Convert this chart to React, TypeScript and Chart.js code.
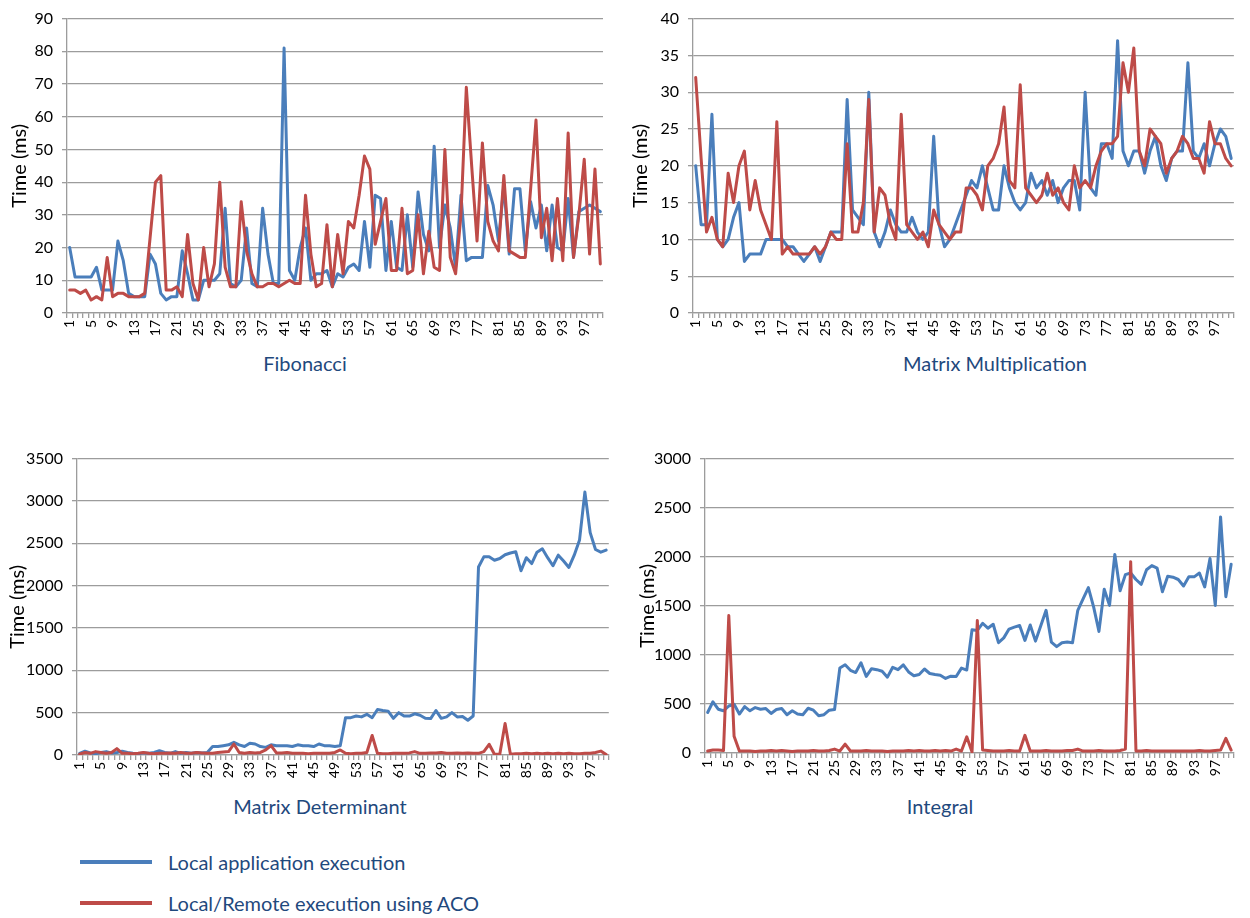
import React, { useEffect, useRef } from 'react';
import { Chart, registerables } from 'chart.js';

Chart.register(...registerables);

const categories: string[] = Array.from({ length: 100 }, (_, i) => String(i + 1));
const shownTickLabels: string[] = ['1', '5', '9', '13', '17', '21', '25', '29', '33', '37', '41', '45', '49', '53', '57', '61', '65', '69', '73', '77', '81', '85', '89', '93', '97'];

const seriesNames = ['Local application execution', 'Local/Remote execution using ACO'];

const fibLocal = [
  20, 11, 11, 11, 11, 14, 7, 7, 7, 22,
  16, 6, 5, 5, 5, 18, 15, 6, 4, 5,
  5, 19, 12, 4, 4, 10, 10, 10, 12, 32,
  9, 8, 10, 26, 9, 8, 32, 18, 9, 9,
  81, 13, 10, 20, 26, 10, 12, 12, 13, 8,
  12, 11, 14, 15, 13, 28, 14, 36, 35, 13,
  28, 14, 13, 30, 14, 37, 24, 19, 51, 20,
  33, 26, 14, 36, 16, 17, 17, 17, 39, 33,
  22, 39, 18, 38, 38, 19, 34, 26, 33, 19,
  33, 20, 19, 35, 17, 31, 32, 33, 32, 31,
];
const fibACO = [
  7, 7, 6, 7, 4, 5, 4, 17, 5, 6,
  6, 5, 5, 5, 6, 23, 40, 42, 7, 7,
  8, 5, 24, 9, 4, 20, 8, 15, 40, 14,
  8, 8, 34, 19, 12, 8, 8, 9, 9, 8,
  9, 10, 9, 9, 36, 18, 8, 9, 27, 8,
  24, 12, 28, 26, 36, 48, 44, 21, 28, 35,
  13, 13, 32, 12, 13, 30, 12, 25, 14, 13,
  50, 17, 12, 30, 69, 45, 22, 52, 28, 22,
  19, 42, 19, 18, 17, 17, 38, 59, 23, 32,
  16, 35, 16, 55, 17, 30, 47, 18, 44, 15,
];

const mmLocal = [
  20, 12, 12, 27, 10, 9, 10, 13, 15, 7,
  8, 8, 8, 10, 10, 10, 10, 9, 9, 8,
  7, 8, 9, 7, 9, 11, 11, 11, 29, 14,
  13, 12, 30, 11, 9, 11, 14, 12, 11, 11,
  13, 11, 10, 11, 24, 12, 9, 10, 12, 14,
  16, 18, 17, 20, 17, 14, 14, 20, 17, 15,
  14, 15, 19, 17, 18, 16, 18, 15, 17, 18,
  18, 14, 30, 17, 16, 23, 23, 21, 37, 22,
  20, 22, 22, 19, 22, 24, 20, 18, 21, 22,
  22, 34, 22, 21, 23, 20, 23, 25, 24, 21,
];
const mmACO = [
  32, 21, 11, 13, 10, 9, 19, 15, 20, 22,
  14, 18, 14, 12, 10, 26, 8, 9, 8, 8,
  8, 8, 9, 8, 9, 11, 10, 10, 23, 11,
  11, 15, 29, 11, 17, 16, 12, 10, 27, 12,
  11, 10, 11, 9, 14, 12, 11, 10, 11, 11,
  17, 17, 16, 14, 20, 21, 23, 28, 18, 17,
  31, 17, 16, 15, 16, 19, 16, 17, 15, 14,
  20, 17, 18, 17, 20, 22, 23, 23, 24, 34,
  30, 36, 22, 20, 25, 24, 23, 19, 21, 22,
  24, 23, 21, 21, 19, 26, 23, 23, 21, 20,
];

const mdLocal = [
  20, 45, 25, 15, 30, 40, 25, 30, 45, 30,
  20, 15, 25, 20, 30, 50, 30, 20, 40, 20,
  30, 20, 30, 25, 30, 100, 100, 110, 120, 150,
  120, 100, 140, 130, 100, 90, 120, 110, 110, 110,
  100, 120, 110, 110, 100, 130, 110, 110, 100, 110,
  441, 441, 460, 450, 480, 440, 537, 525, 518, 433,
  500, 460, 460, 487, 470, 433, 430, 525, 433, 450,
  500, 450, 455, 410, 460, 2220, 2340, 2340, 2300, 2320,
  2365, 2385, 2400, 2175, 2330, 2260, 2395, 2435, 2330, 2235,
  2360, 2290, 2215, 2360, 2540, 3105, 2626, 2427, 2395, 2420,
];
const mdACO = [
  10, 30, 20, 40, 30, 20, 30, 75, 20, 20,
  15, 20, 30, 20, 15, 20, 20, 25, 20, 30,
  20, 20, 30, 25, 20, 20, 30, 35, 40, 130,
  30, 20, 30, 25, 30, 60, 110, 25, 25, 30,
  20, 20, 20, 15, 20, 20, 20, 20, 30, 60,
  20, 15, 20, 20, 30, 230, 20, 15, 15, 20,
  20, 20, 25, 40, 20, 20, 25, 25, 30, 20,
  20, 25, 20, 25, 20, 20, 40, 126, 8, 8,
  372, 10, 15, 15, 20, 15, 20, 15, 20, 15,
  20, 15, 20, 15, 15, 20, 20, 30, 46, 5,
];

const intLocal = [
  413, 522, 446, 430, 479, 496, 397, 473, 430, 463,
  446, 453, 403, 443, 453, 390, 430, 397, 390, 456,
  436, 380, 390, 436, 443, 866, 899, 843, 820, 919,
  780, 859, 849, 833, 773, 873, 849, 899, 826, 787,
  800, 856, 810, 800, 793, 760, 783, 780, 865, 845,
  1256, 1249, 1322, 1272, 1312, 1124, 1173, 1263, 1282, 1299,
  1147, 1305, 1140, 1296, 1454, 1130, 1084, 1124, 1130, 1124,
  1454, 1570, 1686, 1487, 1239, 1669, 1504, 2023, 1653, 1818,
  1834, 1768, 1719, 1867, 1910, 1884, 1643, 1801, 1791, 1768,
  1702, 1795, 1795, 1834, 1692, 1983, 1504, 2406, 1593, 1923,
];
const intACO = [
  20, 30, 30, 25, 1400, 170, 20, 20, 20, 15,
  20, 20, 25, 20, 25, 20, 15, 20, 20, 20,
  25, 20, 20, 25, 40, 20, 90, 20, 20, 20,
  25, 20, 20, 20, 15, 20, 20, 20, 25, 20,
  25, 20, 20, 25, 20, 25, 20, 40, 20, 165,
  10, 1350, 30, 25, 20, 20, 20, 25, 20, 20,
  180, 20, 20, 20, 25, 20, 20, 20, 25, 25,
  40, 20, 20, 20, 25, 20, 20, 20, 25, 40,
  1950, 20, 20, 25, 20, 20, 20, 20, 20, 20,
  20, 20, 20, 25, 20, 20, 25, 30, 150, 30,
];

const BLUE = '#4A7EBB';
const RED = '#BE4B48';
const GRID = '#9c9c9c';
const TITLE_BLUE = '#1F497D';
const FONT = 'Lato, "Open Sans", sans-serif';

type PanelSpec = {
  title: string;
  local: number[];
  aco: number[];
  yMax: number;
  yStep: number;
  left: number;
  top: number;
  width: number;
  height: number;
  yAxisWidth: number;
  xAxisHeight: number;
  padTop: number;
  padRight: number;
  yTitlePad: number;
  titleX: number;
  titleY: number;
};

const panels: PanelSpec[] = [
  { title: 'Fibonacci', local: fibLocal, aco: fibACO, yMax: 90, yStep: 10, left: 0, top: 0, width: 625, height: 350, yAxisWidth: 67, xAxisHeight: 37, padTop: 10, padRight: 22, yTitlePad: 8, titleX: 305, titleY: 363 },
  { title: 'Matrix Multiplication', local: mmLocal, aco: mmACO, yMax: 40, yStep: 5, left: 625, top: 0, width: 625, height: 350, yAxisWidth: 68, xAxisHeight: 37, padTop: 10, padRight: 5, yTitlePad: 4, titleX: 995, titleY: 363 },
  { title: 'Matrix Determinant', local: mdLocal, aco: mdACO, yMax: 3500, yStep: 500, left: 0, top: 440, width: 625, height: 350, yAxisWidth: 77, xAxisHeight: 35, padTop: 11, padRight: 13, yTitlePad: 6, titleX: 320, titleY: 806 },
  { title: 'Integral', local: intLocal, aco: intACO, yMax: 3000, yStep: 500, left: 625, top: 440, width: 625, height: 350, yAxisWidth: 80, xAxisHeight: 37, padTop: 11, padRight: 10, yTitlePad: 11, titleX: 940, titleY: 806 },
];

function Panel({ spec }: { spec: PanelSpec }) {
  const ref = useRef<HTMLCanvasElement | null>(null);
  useEffect(() => {
    if (!ref.current) return;
    const shown = new Set(shownTickLabels);
    const chart = new Chart(ref.current, {
      type: 'line',
      data: {
        labels: categories,
        datasets: [
          { label: seriesNames[0], data: spec.local, borderColor: BLUE, backgroundColor: BLUE, borderWidth: 3, pointRadius: 0, tension: 0, order: 2, borderJoinStyle: 'round', borderCapStyle: 'round', fill: false },
          { label: seriesNames[1], data: spec.aco, borderColor: RED, backgroundColor: RED, borderWidth: 3, pointRadius: 0, tension: 0, order: 1, borderJoinStyle: 'round', borderCapStyle: 'round', fill: false },
        ],
      },
      options: {
        animation: false,
        responsive: false,
        maintainAspectRatio: false,
        layout: { padding: { left: 0, right: spec.padRight, top: spec.padTop, bottom: 0 }, autoPadding: false },
        plugins: { legend: { display: false }, tooltip: { enabled: false }, title: { display: false } },
        scales: {
          x: {
            type: 'category',
            offset: true,
            grid: { display: true, drawOnChartArea: false, drawTicks: true, tickLength: 5, color: GRID, lineWidth: 1.3, offset: true },
            border: { display: true, color: GRID, width: 1.3 },
            ticks: {
              autoSkip: false,
              maxRotation: 90,
              minRotation: 90,
              padding: 2,
              color: '#000',
              font: { family: FONT, size: 14 },
              callback: (_v: any, i: number) => (shown.has(categories[i]) ? categories[i] : ''),
            },
            afterFit: (s: any) => { s.height = spec.xAxisHeight; },
          },
          y: {
            min: 0,
            max: spec.yMax,
            ticks: { stepSize: spec.yStep, padding: 9, color: '#000', font: { family: FONT, size: 16 }, callback: (v: any) => String(v) },
            grid: { color: GRID, lineWidth: 1.3, tickLength: 5, drawTicks: true },
            border: { display: true, color: GRID, width: 1.3 },
            title: { display: true, text: 'Time (ms)', color: '#000', font: { family: FONT, size: 20 }, padding: { top: spec.yTitlePad, bottom: 0 } },
            afterFit: (s: any) => { s.width = spec.yAxisWidth; },
          },
        },
      } as any,
    });
    return () => chart.destroy();
  }, [spec]);
  return (
    <>
      <canvas
        ref={ref}
        width={spec.width}
        height={spec.height}
        style={{ position: 'absolute', left: spec.left, top: spec.top, width: spec.width, height: spec.height }}
      />
      <div
        style={{ position: 'absolute', left: spec.titleX - 200, top: spec.titleY - 13, width: 400, textAlign: 'center', fontFamily: FONT, fontSize: 20, lineHeight: '26px', color: TITLE_BLUE }}
      >
        {spec.title}
      </div>
    </>
  );
}

export default function App() {
  return (
    <div style={{ position: 'absolute', left: 0, top: 0, width: 1250, height: 918, background: '#fff', overflow: 'hidden' }}>
      {panels.map((p) => (
        <Panel key={p.title} spec={p} />
      ))}
      <div style={{ position: 'absolute', left: 80, top: 860, width: 72, height: 4, background: BLUE }} />
      <div style={{ position: 'absolute', left: 168, top: 849, fontFamily: FONT, fontSize: 20, lineHeight: '26px', color: TITLE_BLUE, whiteSpace: 'nowrap' }}>{seriesNames[0]}</div>
      <div style={{ position: 'absolute', left: 80, top: 901, width: 72, height: 4, background: RED }} />
      <div style={{ position: 'absolute', left: 168, top: 890, fontFamily: FONT, fontSize: 20, lineHeight: '26px', color: TITLE_BLUE, whiteSpace: 'nowrap' }}>{seriesNames[1]}</div>
    </div>
  );
}
